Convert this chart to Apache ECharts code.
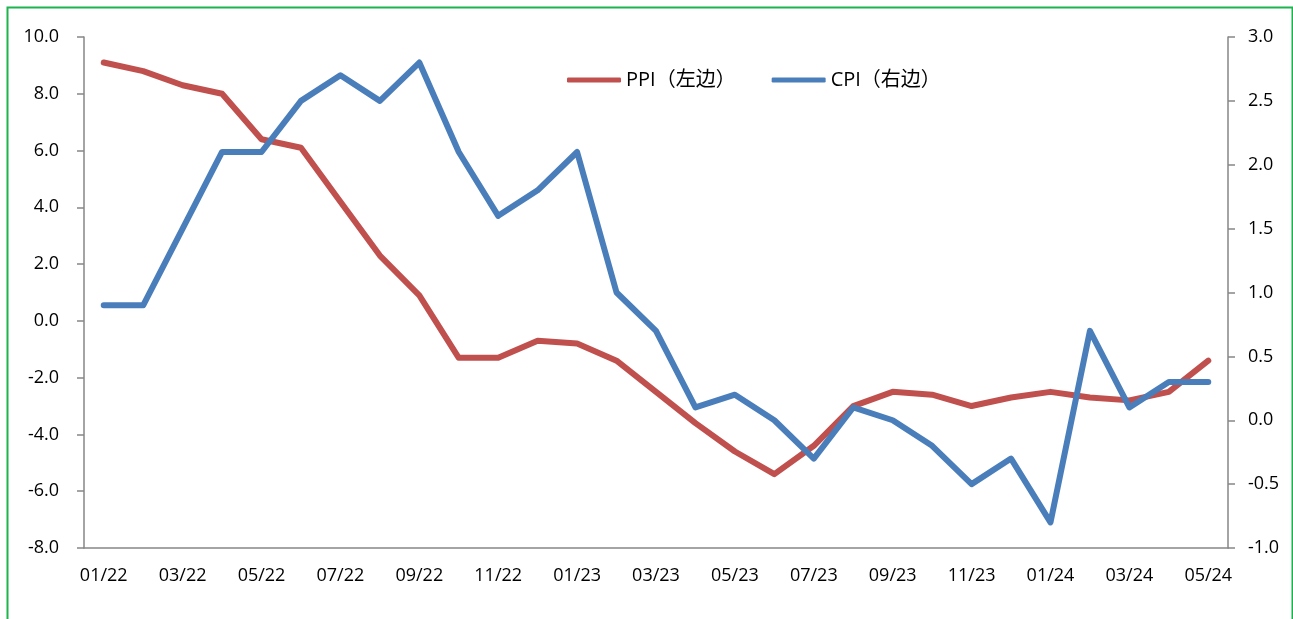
<!DOCTYPE html>
<html>
<head>
<meta charset="utf-8">
<script src="https://cdn.jsdelivr.net/npm/echarts@6/dist/echarts.min.js"></script>
<style>html,body{margin:0;padding:0;background:#fff;}#c{width:1293px;height:619px;}</style>
</head>
<body>
<div id="c"></div>
<script>
const categories = ['01/22','02/22','03/22','04/22','05/22','06/22','07/22','08/22','09/22','10/22','11/22','12/22',
  '01/23','02/23','03/23','04/23','05/23','06/23','07/23','08/23','09/23','10/23','11/23','12/23',
  '01/24','02/24','03/24','04/24','05/24'];
const ppi = [9.1, 8.8, 8.3, 8.0, 6.4, 6.1, 4.2, 2.3, 0.9, -1.3, -1.3, -0.7,
  -0.8, -1.4, -2.5, -3.6, -4.6, -5.4, -4.4, -3.0, -2.5, -2.6, -3.0, -2.7,
  -2.5, -2.7, -2.8, -2.5, -1.4];
const cpi = [0.9, 0.9, 1.5, 2.1, 2.1, 2.5, 2.7, 2.5, 2.8, 2.1, 1.6, 1.8,
  2.1, 1.0, 0.7, 0.1, 0.2, 0.0, -0.3, 0.1, 0.0, -0.2, -0.5, -0.3,
  -0.8, 0.7, 0.1, 0.3, 0.3];
const seriesNames = ['PPI（左边）', 'CPI（右边）'];

const font = '"Open Sans", "Noto Sans", sans-serif';
const axisColor = '#868686';
const chart = echarts.init(document.getElementById('c'), null, {renderer: 'canvas'});
chart.setOption({
  animation: false,
  backgroundColor: '#fff',
  graphic: [{
    type: 'rect', left: 5, top: 5, z: 100,
    shape: {width: 1285, height: 700},
    style: {fill: 'none', stroke: '#1DB34F', lineWidth: 2}
  }],
  legend: {
    left: 567, top: 70, padding: 0,
    itemWidth: 54, itemHeight: 5, itemGap: 36,
    icon: 'roundRect',
    textStyle: {fontFamily: '"Open Sans", "Noto Sans CJK SC", sans-serif', fontSize: 20, color: '#000'},
    data: seriesNames
  },
  grid: {left: 84, right: 65, top: 37, bottom: 71},
  xAxis: {
    type: 'category', data: categories, boundaryGap: true,
    axisLine: {onZero: false, lineStyle: {color: axisColor, width: 1.5}},
    axisTick: {length: 7, lineStyle: {color: axisColor, width: 1.5}},
    axisLabel: {interval: 1, color: '#000', fontFamily: font, fontSize: 18, margin: 19}
  },
  yAxis: [{
    type: 'value', min: -8, max: 10, interval: 2, position: 'left',
    splitLine: {show: false},
    axisLine: {show: true, lineStyle: {color: axisColor, width: 1.5}},
    axisTick: {show: true, length: 7, lineStyle: {color: axisColor, width: 1.5}},
    axisLabel: {color: '#000', fontFamily: font, fontSize: 18, margin: 25,
      formatter: v => v.toFixed(1)}
  }, {
    type: 'value', min: -1, max: 3, interval: 0.5, position: 'right',
    splitLine: {show: false},
    axisLine: {show: true, lineStyle: {color: axisColor, width: 1.5}},
    axisTick: {show: true, length: 7, lineStyle: {color: axisColor, width: 1.5}},
    axisLabel: {color: '#000', fontFamily: font, fontSize: 18, margin: 20,
      formatter: v => v.toFixed(1)}
  }],
  series: [{
    name: seriesNames[0], type: 'line', yAxisIndex: 0, data: ppi,
    symbol: 'none', color: '#C0504D',
    lineStyle: {width: 6, color: '#C0504D', cap: 'round', join: 'round'}
  }, {
    name: seriesNames[1], type: 'line', yAxisIndex: 1, data: cpi,
    symbol: 'none', color: '#4A7EBB',
    lineStyle: {width: 6, color: '#4A7EBB', cap: 'round', join: 'round'}
  }]
});
</script>
</body>
</html>
